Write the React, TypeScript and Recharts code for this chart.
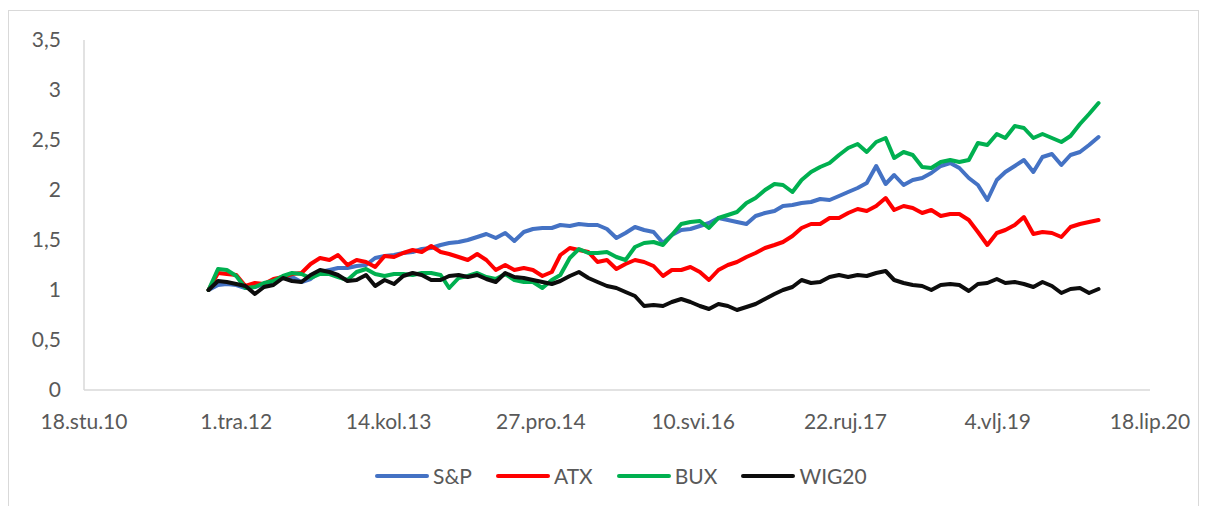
import React from "react";
import { LineChart, Line, XAxis, YAxis } from "recharts";

// monthly observations, Jan 2012 .. Jan 2020
const months = [
  "2012-01", "2012-02", "2012-03", "2012-04", "2012-05", "2012-06", "2012-07", "2012-08", "2012-09", "2012-10", "2012-11", "2012-12",
  "2013-01", "2013-02", "2013-03", "2013-04", "2013-05", "2013-06", "2013-07", "2013-08", "2013-09", "2013-10", "2013-11", "2013-12",
  "2014-01", "2014-02", "2014-03", "2014-04", "2014-05", "2014-06", "2014-07", "2014-08", "2014-09", "2014-10", "2014-11", "2014-12",
  "2015-01", "2015-02", "2015-03", "2015-04", "2015-05", "2015-06", "2015-07", "2015-08", "2015-09", "2015-10", "2015-11", "2015-12",
  "2016-01", "2016-02", "2016-03", "2016-04", "2016-05", "2016-06", "2016-07", "2016-08", "2016-09", "2016-10", "2016-11", "2016-12",
  "2017-01", "2017-02", "2017-03", "2017-04", "2017-05", "2017-06", "2017-07", "2017-08", "2017-09", "2017-10", "2017-11", "2017-12",
  "2018-01", "2018-02", "2018-03", "2018-04", "2018-05", "2018-06", "2018-07", "2018-08", "2018-09", "2018-10", "2018-11", "2018-12",
  "2019-01", "2019-02", "2019-03", "2019-04", "2019-05", "2019-06", "2019-07", "2019-08", "2019-09", "2019-10", "2019-11", "2019-12",
  "2020-01",
];

const sp = [
  1.0, 1.05, 1.06, 1.05, 1.02, 1.03, 1.06, 1.09, 1.12, 1.13, 1.08, 1.11,
  1.18, 1.2, 1.22, 1.22, 1.24, 1.25, 1.32, 1.34, 1.35, 1.37, 1.38, 1.41,
  1.42, 1.45, 1.47, 1.48, 1.5, 1.53, 1.56, 1.52, 1.57, 1.49, 1.58, 1.61,
  1.62, 1.62, 1.65, 1.64, 1.66, 1.65, 1.65, 1.61, 1.52, 1.57, 1.63, 1.6,
  1.58, 1.47, 1.55, 1.6, 1.61, 1.64, 1.67, 1.72, 1.7, 1.68, 1.66, 1.74,
  1.77, 1.79, 1.84, 1.85, 1.87, 1.88, 1.91, 1.9, 1.94, 1.98, 2.02, 2.07,
  2.24, 2.06, 2.15, 2.05, 2.1, 2.12, 2.17, 2.24, 2.27, 2.22, 2.12, 2.05,
  1.9, 2.1, 2.18, 2.24, 2.3, 2.18, 2.33, 2.36, 2.25, 2.35, 2.38, 2.45,
  2.53,
];

const atx = [
  1.0, 1.17, 1.16, 1.15, 1.04, 1.07, 1.06, 1.11, 1.13, 1.16, 1.17, 1.26,
  1.32, 1.3, 1.35, 1.25, 1.3, 1.28, 1.23, 1.34, 1.33, 1.37, 1.4, 1.38,
  1.44, 1.38, 1.36, 1.33, 1.3, 1.36, 1.3, 1.2, 1.25, 1.2, 1.22, 1.2,
  1.14, 1.18, 1.35, 1.42, 1.4, 1.38, 1.28, 1.3, 1.21, 1.26, 1.3, 1.28,
  1.24, 1.14, 1.2, 1.2, 1.23, 1.18, 1.1, 1.2, 1.25, 1.28, 1.33, 1.37,
  1.42, 1.45, 1.48, 1.54, 1.62, 1.66, 1.66, 1.72, 1.72, 1.77, 1.81, 1.79,
  1.84, 1.92, 1.8, 1.84, 1.82, 1.77, 1.8, 1.74, 1.76, 1.76, 1.7, 1.58,
  1.45, 1.57, 1.6, 1.65, 1.73, 1.56, 1.58, 1.57, 1.53, 1.63, 1.66, 1.68,
  1.7,
];

const bux = [
  1.0, 1.21, 1.2, 1.14, 1.02, 1.03, 1.07, 1.09, 1.14, 1.17, 1.16, 1.12,
  1.16, 1.16, 1.13, 1.1, 1.18, 1.21, 1.16, 1.14, 1.16, 1.16, 1.15, 1.17,
  1.17, 1.15, 1.02, 1.12, 1.14, 1.17, 1.13, 1.11, 1.16, 1.1, 1.08, 1.08,
  1.02, 1.1, 1.15, 1.32, 1.41, 1.37, 1.37, 1.38, 1.33, 1.3, 1.43, 1.47,
  1.48, 1.45, 1.55, 1.66, 1.68, 1.69, 1.62, 1.72, 1.75, 1.78, 1.87, 1.92,
  2.0, 2.06, 2.05, 1.98, 2.1, 2.18, 2.23, 2.27, 2.35, 2.42, 2.46, 2.38,
  2.48, 2.52, 2.32, 2.38, 2.35, 2.23, 2.22, 2.28, 2.3, 2.28, 2.3, 2.47,
  2.45, 2.56, 2.52, 2.64, 2.62, 2.52, 2.56, 2.52, 2.48, 2.54, 2.66, 2.76,
  2.87,
];

const wig20 = [
  1.0, 1.09, 1.08, 1.06, 1.04, 0.96, 1.03, 1.05, 1.12, 1.09, 1.08, 1.15,
  1.2, 1.18, 1.15, 1.09, 1.1, 1.15, 1.04, 1.1, 1.06, 1.14, 1.17, 1.15,
  1.1, 1.1, 1.14, 1.15, 1.13, 1.15, 1.11, 1.08, 1.17, 1.13, 1.12, 1.1,
  1.08, 1.06, 1.09, 1.14, 1.18, 1.12, 1.08, 1.04, 1.02, 0.98, 0.94, 0.84,
  0.85, 0.84, 0.88, 0.91, 0.88, 0.84, 0.81, 0.86, 0.84, 0.8, 0.83, 0.86,
  0.91, 0.96, 1.0, 1.03, 1.1, 1.07, 1.08, 1.13, 1.15, 1.13, 1.15, 1.14,
  1.17, 1.19, 1.1, 1.07, 1.05, 1.04, 1.0, 1.05, 1.06, 1.05, 0.99, 1.06,
  1.07, 1.11, 1.07, 1.08, 1.06, 1.03, 1.08, 1.04, 0.97, 1.01, 1.02, 0.97,
  1.01,
];

const tickDates = ["2010-11-18", "2012-04-01", "2013-08-14", "2014-12-27", "2016-05-10", "2017-09-22", "2019-02-04", "2020-06-18"];
const tickLabels = ["18.stu.10", "1.tra.12", "14.kol.13", "27.pro.14", "10.svi.16", "22.ruj.17", "4.vlj.19", "18.lip.20"];
const yTicks = [0, 0.5, 1, 1.5, 2, 2.5, 3, 3.5];

const seriesNames = ["S&P", "ATX", "BUX", "WIG20"];
const seriesKeys = ["sp", "atx", "bux", "wig20"];
const seriesColors = ["#4472C4", "#FF0000", "#00B050", "#0D0D0D"];

const toDay = (s: string) => Date.parse(s.length === 7 ? s + "-01" : s) / 86400000;
const tickVals = tickDates.map(toDay);

const FONT = "Lato, 'Open Sans', sans-serif";
const TEXT = "#595959";

export default function App() {
  const data = months.map((m, i) => ({
    t: toDay(m),
    sp: sp[i],
    atx: atx[i],
    bux: bux[i],
    wig20: wig20[i],
  }));

  return (
    <div
      style={{
        position: "relative",
        width: 1189,
        height: 500,
        marginTop: 2,
        border: "1px solid #d9d9d9",
        background: "#fff",
        fontFamily: FONT,
      }}
    >
      <LineChart width={1189} height={500} data={data} margin={{ top: 29, right: 48, bottom: 81, left: 0 }}>
        <XAxis
          type="number"
          dataKey="t"
          domain={[tickVals[0], tickVals[tickVals.length - 1]]}
          ticks={tickVals}
          interval={0}
          tickFormatter={(v: number) => tickLabels[tickVals.indexOf(v)] ?? ""}
          tick={{ fill: TEXT, fontSize: 21, fontFamily: FONT }}
          tickLine={false}
          tickMargin={18}
          height={40}
          axisLine={{ stroke: "#d9d9d9", strokeWidth: 1.5 }}
        />
        <YAxis
          domain={[0, 3.5]}
          ticks={yTicks}
          interval={0}
          tickFormatter={(v: number) => String(v).replace(".", ",")}
          tick={{ fill: TEXT, fontSize: 21, fontFamily: FONT }}
          tickLine={false}
          tickMargin={17}
          width={75}
          axisLine={{ stroke: "#d9d9d9", strokeWidth: 1.5 }}
        />
        {seriesKeys.map((k, i) => (
          <Line
            key={k}
            type="linear"
            dataKey={k}
            name={seriesNames[i]}
            stroke={seriesColors[i]}
            strokeWidth={4}
            strokeLinejoin="round"
            strokeLinecap="round"
            dot={false}
            activeDot={false}
            isAnimationActive={false}
          />
        ))}
      </LineChart>
      <div
        style={{
          position: "absolute",
          left: 366,
          top: 453,
          display: "flex",
          alignItems: "center",
          gap: 24,
          fontSize: 21,
          color: TEXT,
          lineHeight: "24px",
        }}
      >
        {seriesNames.map((n, i) => (
          <div key={n} style={{ display: "flex", alignItems: "center" }}>
            <span
              style={{
                display: "inline-block",
                width: 54,
                height: 4,
                borderRadius: 2,
                background: seriesColors[i],
                marginRight: 4,
              }}
            />
            <span>{n}</span>
          </div>
        ))}
      </div>
    </div>
  );
}
